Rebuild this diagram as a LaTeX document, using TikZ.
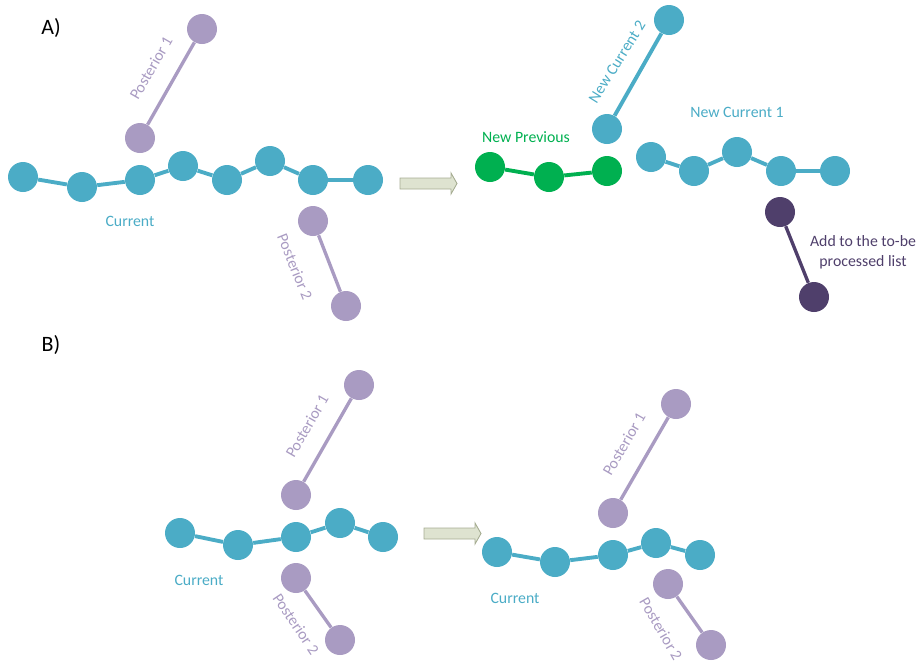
\documentclass[tikz,border=0pt]{standalone}
\usepackage{fontspec}
\setmainfont{Carlito}
\usetikzlibrary{positioning}

\definecolor{chain}{HTML}{4BACC6}
\definecolor{post}{HTML}{A99BC2}
\definecolor{prev}{HTML}{00B050}
\definecolor{todo}{HTML}{4F3F6B}
\definecolor{arrowfill}{HTML}{DEE3D0}
\definecolor{arrowline}{HTML}{A6AD92}

\begin{document}
\begin{tikzpicture}[x=0.02cm, y=-0.02cm,
    bead/.style={circle, fill=#1, draw=none, minimum size=0.6cm, inner sep=0pt},
    link/.style={line width=2.2pt, draw=#1},
    plink/.style={line width=1.9pt, draw=#1},
    lbl/.style={text=#1, font=\fontsize{9}{11.3}\selectfont, inner sep=0pt},
    panel/.style={font=\fontsize{12.5}{14}\selectfont, inner sep=0pt}]
    \useasboundingbox (0,0) rectangle (918,664);

    % block arrow between the two states
    \newcommand\blockarrow[2]{%
        \draw[fill=arrowfill, draw=arrowline, line width=0.5pt]
            (#1,#2-5.5) -- ++(51,0) -- ++(0,-5) -- ++(6,10.5) -- ++(-6,10.5)
            -- ++(0,-5) -- ++(-51,0) -- cycle;}

    % ---------------- A) ----------------
    \node[panel] (pa) at (51,28) {A)};

    \foreach \x/\y [count=\i] in {23/177,82/187,140/180,183/166,227/180,270/161,313/180,368/180}
        {\node[bead=chain] (a\i) at (\x,\y) {};}
    \foreach \i in {2,...,8} {
        \pgfmathtruncatemacro\im{\i-1}
        \draw[link=chain] (a\im) -- (a\i);
    }
    \node[lbl=chain] (acur) at (130,221) {Current};

    \node[bead=post] (ap1a) at (202,29) {};
    \node[bead=post] (ap1b) at (140,138) {};
    \draw[plink=post] (ap1b) -- (ap1a);
    \node[lbl=post, rotate=60] (ap1) at (151,68) {Posterior 1};

    \node[bead=post] (ap2a) at (313,221) {};
    \node[bead=post] (ap2b) at (346,306) {};
    \draw[plink=post] (ap2a) -- (ap2b);
    \node[lbl=post, rotate=-68] (ap2) at (295,267) {Posterior 2};

    \blockarrow{400}{183.5}

    % result of the split
    \foreach \x/\y [count=\i] in {490/167,549/177,607/171}
        {\node[bead=prev] (n\i) at (\x,\y) {};}
    \draw[link=prev] (n1) -- (n2) -- (n3);
    \node[lbl=prev] (nprev) at (526,137) {New Previous};

    \node[bead=chain] (m2a) at (669,20) {};
    \node[bead=chain] (m2b) at (607,129) {};
    \draw[link=chain] (m2b) -- (m2a);
    \node[lbl=chain, rotate=58] (ncur2) at (617,62) {New Current 2};

    \foreach \x/\y [count=\i] in {651/157,694/171,737/152,781/171,835/171}
        {\node[bead=chain] (m\i) at (\x,\y) {};}
    \foreach \i in {2,...,5} {
        \pgfmathtruncatemacro\im{\i-1}
        \draw[link=chain] (m\im) -- (m\i);
    }
    \node[lbl=chain] (ncur1) at (737,112) {New Current 1};

    \node[bead=todo] (t1) at (780,212) {};
    \node[bead=todo] (t2) at (814,297) {};
    \draw[plink=todo] (t1) -- (t2);
    \node[lbl=todo, align=center] (tlist) at (863,252) {Add to the to-be\\processed list};

    % ---------------- B) ----------------
    \node[panel] (pb) at (51,345) {B)};

    \foreach \x/\y [count=\i] in {180/533,238/545,296/537,340/523,383/537}
        {\node[bead=chain] (b\i) at (\x,\y) {};}
    \foreach \i in {2,...,5} {
        \pgfmathtruncatemacro\im{\i-1}
        \draw[link=chain] (b\im) -- (b\i);
    }
    \node[lbl=chain] (bcur) at (199,580) {Current};

    \node[bead=post] (bp1a) at (359,385) {};
    \node[bead=post] (bp1b) at (296,495) {};
    \draw[plink=post] (bp1b) -- (bp1a);
    \node[lbl=post, rotate=60] (bp1) at (307,426) {Posterior 1};

    \node[bead=post] (bp2a) at (296,578) {};
    \node[bead=post] (bp2b) at (340,640) {};
    \draw[plink=post] (bp2a) -- (bp2b);
    \node[lbl=post, rotate=-56] (bp2) at (296,624) {Posterior 2};

    \blockarrow{424}{533.5}

    \foreach \x/\y [count=\i] in {497/552,555/562,613/555,656/543,700/555}
        {\node[bead=chain] (r\i) at (\x,\y) {};}
    \foreach \i in {2,...,5} {
        \pgfmathtruncatemacro\im{\i-1}
        \draw[link=chain] (r\im) -- (r\i);
    }
    \node[lbl=chain] (rcur) at (515,598) {Current};

    \node[bead=post] (rp1a) at (676,404) {};
    \node[bead=post] (rp1b) at (613,513) {};
    \draw[plink=post] (rp1b) -- (rp1a);
    \node[lbl=post, rotate=60] (rp1) at (624,444) {Posterior 1};

    \node[bead=post] (rp2a) at (668,584) {};
    \node[bead=post] (rp2b) at (711,645) {};
    \draw[plink=post] (rp2a) -- (rp2b);
    \node[lbl=post, rotate=-60] (rp2) at (661,629) {Posterior 2};
\end{tikzpicture}
\end{document}
